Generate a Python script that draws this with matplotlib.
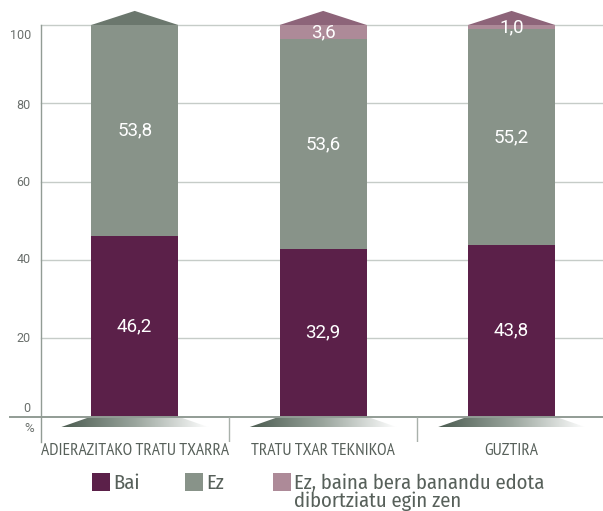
import numpy as np
import matplotlib
matplotlib.use("Agg")
import matplotlib.pyplot as plt
from matplotlib.patches import Polygon, Rectangle
from matplotlib.colors import LinearSegmentedColormap
from matplotlib import font_manager as fm
import matplotlib.transforms as mtransforms

# ---------------- data ----------------
categories = ["ADIERAZITAKO TRATU TXARRA", "TRATU TXAR TEKNIKOA", "GUZTIRA"]
series_names = ["Bai", "Ez", "Ez, baina bera banandu edota\ndibortziatu egin zen"]
bai = [46.2, 42.8, 43.8]
ez = [53.8, 53.6, 55.2]
ez_banandu = [0.0, 3.6, 1.0]
bai_labels = ["46,2", "32,9", "43,8"]
ez_labels = ["53,8", "53,6", "55,2"]
ez_banandu_labels = ["", "3,6", "1,0"]
yticks = [0, 20, 40, 60, 80, 100]
ytick_labels = ["0", "20", "40", "60", "80", "100"]

# ---------------- style ----------------
C_BAI = "#5b2049"
C_EZ = "#889389"
C_PINK = "#ad8a98"
C_TRI_EZ = "#6b776d"
C_TRI_PINK = "#8d6479"
C_GRID = "#c6ccc8"
C_AXIS = "#929c95"
C_TEXT = "#57605a"

names = {f.name for f in fm.fontManager.ttflist}


def pick(cands, default="DejaVu Sans"):
    for c in cands:
        if c in names:
            return c
    return default


NARROW = pick(["PT Sans Narrow", "Fira Sans Condensed", "Roboto Condensed",
               "Open Sans Condensed", "Encode Sans Condensed", "Asap Condensed",
               "Liberation Sans Narrow", "Arial Narrow"])
HUMAN = pick(["Fira Sans Condensed", "PT Sans Narrow", "Roboto Condensed",
              "Open Sans", "Noto Sans"])
NORMAL = pick(["Roboto", "Open Sans", "Noto Sans"])

W, H = 603, 511
fig = plt.figure(figsize=(W / 100, H / 100), dpi=100)
ax_left, ax_right, ax_top, ax_bot = 40.5, 603, 25, 442
ax = fig.add_axes([ax_left / W, (H - ax_bot) / H,
                   (ax_right - ax_left) / W, (ax_bot - ax_top) / H])

x = np.arange(len(categories))
bw = 0.462
ax.set_xlim(-0.5, 2.485)
ax.set_ylim(-6.5, 100)

# gridlines
for t in yticks[1:]:
    ax.plot([-0.5, 2.485], [t, t], color=C_GRID, lw=1.0, zorder=1, clip_on=False)

# bars
bai = np.array(bai)
ez = np.array(ez)
ezb = np.array(ez_banandu)
ax.bar(x, bai, width=bw, color=C_BAI, zorder=3)
ax.bar(x, ez, width=bw, bottom=bai, color=C_EZ, zorder=3)
ax.bar(x, ezb, width=bw, bottom=bai + ez, color=C_PINK, zorder=3)

# top triangles
tri_h = 3.6
for i in range(len(x)):
    top = bai[i] + ez[i] + ezb[i]
    col = C_TRI_PINK if ezb[i] > 0 else C_TRI_EZ
    ax.add_patch(Polygon([[x[i] - bw / 2, top], [x[i], top + tri_h], [x[i] + bw / 2, top]],
                         closed=True, facecolor=col, edgecolor="none", clip_on=False, zorder=3))

# ground shadow gradients
cmap = LinearSegmentedColormap.from_list("g", ["#4b5b50", "#9aa59d", "#ffffff"])
ext = 0.16
sh = 2.7
grad = np.linspace(0, 1, 256).reshape(1, -1)
for i in range(len(x)):
    x0, x1 = x[i] - bw / 2 - ext, x[i] + bw / 2 + ext
    im = ax.imshow(grad, extent=[x0, x1, -sh, 0], cmap=cmap, aspect="auto",
                   zorder=2, interpolation="bilinear")
    poly = Polygon([[x[i] - bw / 2, 0], [x[i] + bw / 2, 0], [x1, -sh], [x0, -sh]],
                   closed=True, transform=ax.transData, facecolor="none", edgecolor="none")
    im.set_clip_path(poly)
ax.set_xlim(-0.5, 2.485)
ax.set_ylim(-6.5, 100)

# zero line and separators
ax.plot([-0.5 - 31 / 188.5, 2.485], [0, 0], color=C_AXIS, lw=1.4, zorder=4, clip_on=False)
ax.vlines([0.5, 1.5], -6.5, 0, color="#a9b1ab", lw=1.0, zorder=4)

# spines
for s in ["top", "right", "bottom"]:
    ax.spines[s].set_visible(False)
ax.spines["left"].set_color(C_AXIS)
ax.spines["left"].set_linewidth(1.0)
ax.spines["left"].set_zorder(5)

# y ticks
ax.set_yticks(yticks)
ax.set_yticklabels(ytick_labels, fontsize=9, color="#6a6f6c", family=NORMAL)
ax.tick_params(axis="y", length=0, pad=7)
dys = [9.5, 1, 2, 1, -1, -9]
for lab, dy in zip(ax.get_yticklabels(), dys):
    lab.set_transform(lab.get_transform() +
                      mtransforms.ScaledTranslation(0, dy / 100, fig.dpi_scale_trans))

# x ticks
ax.set_xticks(x)
ax.set_xticklabels(categories, fontsize=12.6, color=C_TEXT, family=NARROW)
ax.tick_params(axis="x", length=0, pad=1.0)

fig.text(29 / W, 1 - 428 / H, "%", ha="center", va="center", fontsize=9.5,
         color="#6a6f6c", family=NORMAL)

# value labels
vfs = 13.5
for i in range(len(x)):
    ax.text(x[i], bai[i] / 2, bai_labels[i], ha="center", va="center",
            color="white", fontsize=vfs, family=NORMAL, zorder=6)
    ax.text(x[i], bai[i] + ez[i] / 2, ez_labels[i], ha="center", va="center",
            color="white", fontsize=vfs, family=NORMAL, zorder=6)
    if ezb[i] > 0:
        ax.text(x[i], bai[i] + ez[i] + ezb[i] / 2, ez_banandu_labels[i], ha="center",
                va="center", color="white", fontsize=vfs, family=NORMAL, zorder=6)

# legend (manual)
leg_x = [92, 185, 273]
leg_cols = [C_BAI, C_EZ, C_PINK]
sq = 18
for lx, col, name in zip(leg_x, leg_cols, series_names):
    fig.patches.append(Rectangle((lx / W, 1 - 491 / H), sq / W, sq / H,
                                 transform=fig.transFigure, facecolor=col,
                                 edgecolor="none"))
    for k, line in enumerate(name.split("\n")):
        fig.text((lx + sq + 3) / W, 1 - (489 + 18 * k) / H, line, ha="left",
                 va="baseline", fontsize=14.8, color=C_TEXT, family=HUMAN)

fig.savefig("out.png", dpi=100)
